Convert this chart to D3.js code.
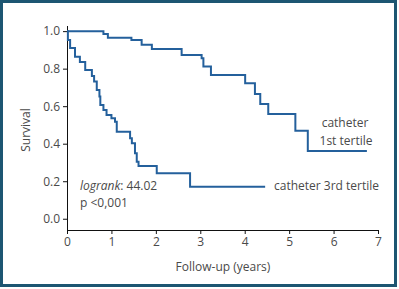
<!DOCTYPE html>
<html lang="en">
<head>
  <meta charset="UTF-8">
  <title>Survival by catheter tertile</title>
  <script src="https://d3js.org/d3.v7.min.js"></script>
  <style>
    body { margin: 0; background: #fff; }
    text { font-family: "Open Sans", sans-serif; fill: #4a4a4a; }
    .axis path, .axis line { stroke: #111; }
    .axis text { font-size: 12px; fill: #4a4a4a; }
    .curve { fill: none; stroke: #24609c; stroke-width: 2px; }
  </style>
</head>
<body>
  <div id="chart"></div>
  <script>
    var w = 399, h = 289;

    // Kaplan-Meier steps: [time (years), survival after the step]
    var firstTertile = [
      [0, 1.0], [0.82, 0.985], [0.92, 0.965], [1.45, 0.953], [1.68, 0.928],
      [1.91, 0.905], [2.58, 0.873], [3.03, 0.855], [3.07, 0.811], [3.24, 0.766],
      [4.01, 0.722], [4.23, 0.665], [4.35, 0.612], [4.53, 0.558], [5.14, 0.469],
      [5.42, 0.361], [6.75, 0.361]
    ];
    var thirdTertile = [
      [0, 1.0], [0.02, 0.953], [0.07, 0.91], [0.18, 0.864], [0.29, 0.836],
      [0.41, 0.793], [0.56, 0.761], [0.61, 0.731], [0.67, 0.686], [0.73, 0.651],
      [0.75, 0.606], [0.82, 0.58], [0.89, 0.553], [1.0, 0.535], [1.08, 0.517],
      [1.12, 0.464], [1.42, 0.429], [1.46, 0.402], [1.53, 0.349], [1.57, 0.304],
      [1.61, 0.281], [2.02, 0.242], [2.77, 0.171], [4.46, 0.171]
    ];
    var xTicks = [0, 1, 2, 3, 4, 5, 6, 7];
    var yTicks = [0, 0.2, 0.4, 0.6, 0.8, 1.0];

    var svg = d3.select("#chart").append("svg")
      .attr("width", w)
      .attr("height", h);

    // frame
    svg.append("rect")
      .attr("x", 1.5).attr("y", 1.5)
      .attr("width", 394).attr("height", 284)
      .attr("fill", "#fff")
      .attr("stroke", "#1d5672")
      .attr("stroke-width", 3);

    var x = d3.scaleLinear().domain([0, 7]).range([67, 378]);
    var y = d3.scaleLinear().domain([-0.06, 1.03]).range([230, 25.5]);

    svg.append("g")
      .attr("class", "axis")
      .attr("transform", "translate(0,230)")
      .call(d3.axisBottom(x).tickValues(xTicks).tickSize(4).tickPadding(3).tickSizeOuter(0)
        .tickFormat(d3.format("d")));

    svg.append("g")
      .attr("class", "axis")
      .attr("transform", "translate(67,0)")
      .call(d3.axisLeft(y).tickValues(yTicks).tickSize(4).tickPadding(3).tickSizeOuter(0)
        .tickFormat(d3.format(".1f")));

    var line = d3.line()
      .curve(d3.curveStepAfter)
      .x(function(d) { return x(d[0]); })
      .y(function(d) { return y(d[1]); });

    svg.append("path").attr("class", "curve").attr("d", line(firstTertile));
    svg.append("path").attr("class", "curve").attr("d", line(thirdTertile));

    // labels
    svg.append("text")
      .attr("transform", "translate(30,130) rotate(-90)")
      .attr("text-anchor", "middle")
      .attr("font-size", 12)
      .text("Survival");

    svg.append("text")
      .attr("x", 223).attr("y", 271)
      .attr("text-anchor", "middle")
      .attr("font-size", 12)
      .text("Follow-up (years)");

    var lr = svg.append("text")
      .attr("x", 80).attr("y", 190)
      .attr("font-size", 12);
    lr.append("tspan").attr("font-style", "italic").text("logrank");
    lr.append("tspan").text(": 44.02");

    svg.append("text")
      .attr("x", 80).attr("y", 207)
      .attr("font-size", 12)
      .text("p <0,001");

    svg.append("text")
      .attr("x", 345).attr("y", 127)
      .attr("text-anchor", "middle")
      .attr("font-size", 12)
      .text("catheter");

    svg.append("text")
      .attr("x", 346).attr("y", 145)
      .attr("text-anchor", "middle")
      .attr("font-size", 12)
      .text("1st tertile");

    svg.append("text")
      .attr("x", 274).attr("y", 190)
      .attr("font-size", 12)
      .text("catheter 3rd tertile");
  </script>
</body>
</html>
